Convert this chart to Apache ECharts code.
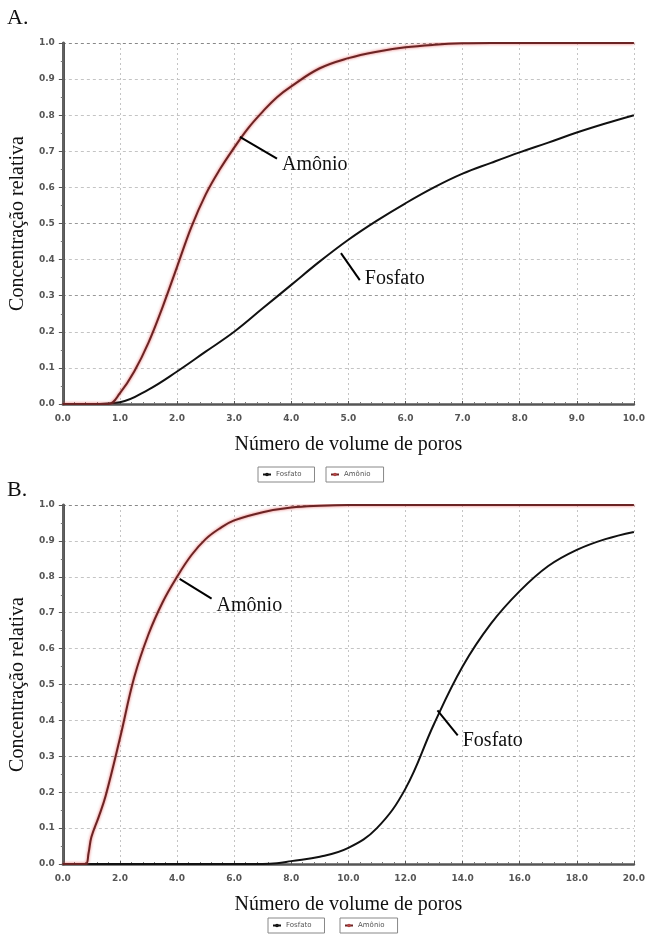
<!DOCTYPE html>
<html><head><meta charset="utf-8">
<script src="https://cdn.jsdelivr.net/npm/echarts@6/dist/echarts.min.js"></script>
<style>html,body{margin:0;padding:0;background:#fff}#c{width:648px;height:942px}</style>
</head><body><div id="c"></div>
<script>
// Chart A (0–10 pore volumes)
const xTicksA = ['0.0','1.0','2.0','3.0','4.0','5.0','6.0','7.0','8.0','9.0','10.0'];
const amonioA_x = [0,0.5,0.8,1.0,1.25,1.5,1.75,2.0,2.25,2.5,2.75,3.0,3.25,3.5,3.75,4.0,4.5,5.0,5.5,6.0,6.5,7.0,7.5,8,9,10];
const amonioA_y = [0,0,0,0.03,0.09,0.17,0.27,0.38,0.49,0.58,0.65,0.71,0.765,0.81,0.85,0.88,0.93,0.958,0.976,0.988,0.995,0.999,1,1,1,1];
const fosfatoA_x = [0,0.5,1.0,1.5,2.0,2.5,3.0,3.5,4.0,4.5,5.0,5.5,6.0,6.5,7.0,7.5,8.0,8.5,9.0,9.5,10];
const fosfatoA_y = [0,0,0.005,0.04,0.09,0.145,0.20,0.265,0.33,0.395,0.455,0.508,0.556,0.60,0.638,0.668,0.697,0.724,0.752,0.777,0.80];
// Chart B (0–20 pore volumes)
const xTicksB = ['0.0','2.0','4.0','6.0','8.0','10.0','12.0','14.0','16.0','18.0','20.0'];
const amonioB_x = [0,0.5,0.8,0.9,1.0,1.25,1.5,2.0,2.5,3.0,3.5,4.0,4.5,5.0,5.5,6.0,7.0,8.0,9.0,10,12,14,16,18,20];
const amonioB_y = [0,0,0,0.03,0.075,0.13,0.19,0.35,0.52,0.64,0.73,0.80,0.86,0.905,0.935,0.957,0.98,0.993,0.998,1,1,1,1,1,1];
const fosfatoB_x = [0,2,4,6,7,7.5,8,9,10,11,12,13,14,15,16,17,18,19,20];
const fosfatoB_y = [0,0,0,0,0,0.002,0.008,0.02,0.045,0.10,0.21,0.39,0.55,0.67,0.76,0.83,0.875,0.905,0.925];
const yTicks = ['0.0','0.1','0.2','0.3','0.4','0.5','0.6','0.7','0.8','0.9','1.0'];
const labels = {amonio:'Amônio', fosfato:'Fosfato'};
const pointerA_amonio = [[3.10,0.74],[3.75,0.68]];
const pointerA_fosfato = [[4.87,0.418],[5.2,0.343]];
const pointerB_amonio = [[4.09,0.794],[5.21,0.739]];
const pointerB_fosfato = [[13.12,0.428],[13.83,0.358]];

const zip = (xs, ys) => xs.map((x,i)=>[x,ys[i]]);
const serif = 'Liberation Serif';
const tickFont = {fontFamily:'DejaVu Sans', fontSize:9, color:'#555', fontWeight:'bold'};

function xAxis(grid, max, ticks){
  return {type:'value', gridIndex:grid, min:0, max:max, interval:max/10,
    name:'Número de volume de poros', nameLocation:'middle', nameGap:31,
    nameTextStyle:{fontFamily:serif, fontSize:20, color:'#111'},
    axisLine:{show:true, onZero:false, lineStyle:{color:'#555', width:2.5}},
    axisTick:{show:true, length:3, inside:true, lineStyle:{color:'#555'}},
    minorTick:{show:true, splitNumber:5, length:2, lineStyle:{color:'#777'}},
    axisLabel:Object.assign({margin:10, formatter:(v)=>ticks[Math.round(v/(max/10))]}, tickFont),
    splitLine:{show:true, lineStyle:{color:'#c4c4c4', type:[2,3], width:1}}};
}
function yAxis(grid){
  return {type:'value', gridIndex:grid, min:0, max:1, interval:0.1,
    name:'Concentração relativa', nameLocation:'middle', nameGap:27, nameRotate:90,
    nameTextStyle:{fontFamily:serif, fontSize:20, color:'#111'},
    axisLine:{show:true, onZero:false, lineStyle:{color:'#555', width:3}},
    axisTick:{show:true, length:4, lineStyle:{color:'#555'}},
    minorTick:{show:true, splitNumber:2, length:2, lineStyle:{color:'#777'}},
    axisLabel:Object.assign({margin:8, formatter:(v)=>yTicks[Math.round(v*10)]}, tickFont),
    splitLine:{show:true, lineStyle:{color:['#aaa','#c4c4c4','#c4c4c4','#999','#c4c4c4','#999','#c4c4c4','#c4c4c4','#c4c4c4','#c4c4c4','#888'], type:[3,3], width:1}}};
}
function rightAxis(grid){
  return {type:'value', gridIndex:grid, position:'right', min:0, max:1,
    axisLine:{show:true, lineStyle:{color:'#666', width:1.5}},
    axisTick:{show:false}, axisLabel:{show:false}, splitLine:{show:false}};
}
function pointer(p){
  return {symbol:['none','none'], silent:true, animation:false,
    lineStyle:{color:'#000', width:2, type:'solid'},
    label:{show:false},
    data:[[{coord:p[0]},{coord:p[1]}]]};
}
function pointerLabel(p, text, dy){
  return {silent:true, animation:false, symbol:'circle', symbolSize:0,
    label:{show:true, position:'right', distance:5, offset:[0,dy], formatter:text, fontFamily:serif, fontSize:20, color:'#111'},
    data:[{coord:p[1]}]};
}
const amStyle = {color:'#6b2424', width:2, shadowColor:'rgba(230,80,80,0.9)', shadowBlur:3};
const foStyle = {color:'#111', width:2};

function legend(name, left, top){
  return {show:true, selectedMode:false, data:[name], left:left, top:top, orient:'horizontal',
    borderColor:'#888', borderWidth:1, padding:[4,13,4,4], itemWidth:8, itemHeight:2, itemGap:2,
    textStyle:{fontSize:7, color:'#555', fontFamily:'DejaVu Sans'}};
}
function lineSeries(name, ax, xs, ys, style, color, p, dy, z){
  return {name:name, type:'line', xAxisIndex:ax, yAxisIndex:ax, data:zip(xs,ys), smooth:0.4,
    showSymbol:false, lineStyle:style, itemStyle:{color:color},
    markLine:pointer(p), markPoint:pointerLabel(p, labels[name==='Amônio'?'amonio':'fosfato'], dy), z:z};
}

const chart = echarts.init(document.getElementById('c'), null, {renderer:'canvas'});
chart.setOption({
  backgroundColor:'#fff',
  animation:false,
  graphic:[
    {type:'text', left:7, top:7, style:{text:'A.', font:'22px "Liberation Serif"', fill:'#111'}},
    {type:'text', left:7, top:479, style:{text:'B.', font:'22px "Liberation Serif"', fill:'#111'}}
  ],
  legend:[legend('Fosfato',258,467), legend('Amônio',326,467), legend('Fosfato',268,918), legend('Amônio',340,918)],
  grid:[
    {left:52, top:43, width:587, height:361},
    {left:52, top:505, width:587, height:359}
  ],
  xAxis:[xAxis(0,10,xTicksA), xAxis(1,20,xTicksB)],
  yAxis:[yAxis(0), yAxis(1), rightAxis(0), rightAxis(1)],
  series:[
    lineSeries('Fosfato',0,fosfatoA_x,fosfatoA_y,foStyle,'#111',pointerA_fosfato,-1,3),
    lineSeries('Amônio',0,amonioA_x,amonioA_y,amStyle,'#b04040',pointerA_amonio,6,4),
    lineSeries('Fosfato',1,fosfatoB_x,fosfatoB_y,foStyle,'#111',pointerB_fosfato,5,3),
    lineSeries('Amônio',1,amonioB_x,amonioB_y,amStyle,'#b04040',pointerB_amonio,7,4)
  ]
});
</script></body></html>
